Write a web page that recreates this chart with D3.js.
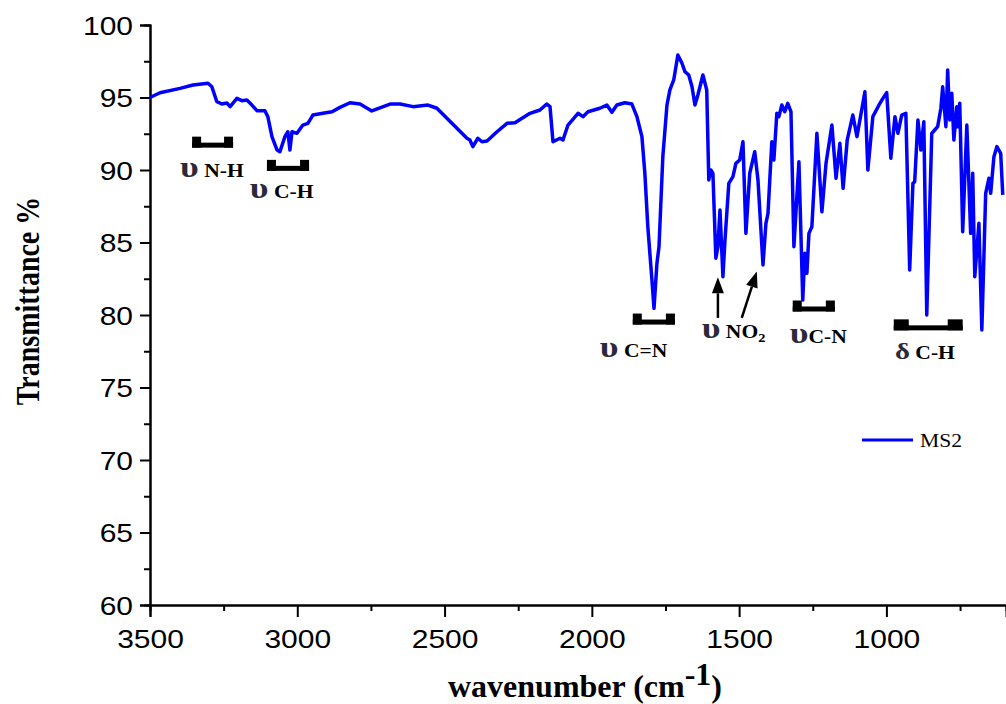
<!DOCTYPE html>
<html lang="en">
<head>
<meta charset="utf-8">
<script src="https://cdn.jsdelivr.net/npm/d3@7"></script>
<style>
  body { margin: 0; background: #fff; }
</style>
</head>
<body>
<script>

// IR spectrum of MS2
var wavenumber = [3500,3466,3398,3354,3303,3290,3273,3256,3239,3228,
  3205,3188,3171,3154,3137,3110,3100,3086,3069,3059,
  3042,3032,3025,3018,3001,2981,2964,2947,2913,2882,
  2855,2821,2787,2747,2685,2651,2607,2556,2526,2492,
  2458,2424,2414,2404,2387,2373,2356,2322,2288,2261,
  2210,2176,2153,2142,2132,2108,2098,2081,2047,2030,
  2013,1973,1949,1932,1915,1888,1864,1847,1830,1820,
  1810,1796,1789,1779,1772,1759,1745,1735,1722,1708,
  1694,1684,1671,1660,1650,1640,1623,1610,1603,1596,
  1589,1579,1572,1565,1555,1548,1535,1521,1511,1498,
  1487,1477,1464,1447,1436,1419,1409,1402,1389,1382,
  1372,1365,1355,1345,1335,1324,1314,1297,1284,1277,
  1270,1263,1253,1236,1219,1205,1185,1171,1158,1147,
  1133,1114,1100,1073,1063,1046,1022,1012,999,985,
  971,961,948,934,921,910,904,893,883,873,
  863,846,836,826,815,809,798,792,785,778,
  771,761,758,751,741,727,714,707,700,686,
  676,663,652,646,635,625,612,605];

var transmittance = [95.0,95.33,95.63,95.86,95.98,95.74,94.71,94.55,94.62,94.37,
  94.94,94.78,94.83,94.48,94.09,94.09,93.68,92.30,91.38,91.26,
  92.30,92.64,91.38,92.64,92.53,93.10,93.22,93.79,93.91,94.02,
  94.32,94.64,94.55,94.07,94.55,94.55,94.37,94.48,94.26,93.57,
  92.88,92.19,92.07,91.61,92.19,91.95,92.00,92.64,93.22,93.26,
  93.91,94.14,94.55,94.37,91.95,92.19,92.07,93.10,93.91,93.68,
  94.02,94.26,94.48,93.98,94.48,94.64,94.55,93.68,92.30,89.77,
  86.09,82.41,80.46,83.57,84.71,90.92,94.48,95.52,96.21,97.93,
  97.36,96.78,96.55,95.74,94.48,95.17,96.55,95.52,89.31,90.0,
  89.77,83.91,84.71,87.24,82.64,85.17,89.08,89.54,90.46,90.69,
  91.95,85.63,89.77,91.26,89.31,83.45,86.32,87.01,91.95,90.69,
  93.91,93.68,94.48,94.02,94.60,94.02,84.71,90.57,81.03,84.26,
  82.88,85.63,86.09,92.53,87.12,90.46,93.10,89.43,91.84,88.74,
  92.07,93.79,92.30,95.40,90.0,93.68,94.60,94.94,95.33,90.81,
  93.68,92.53,93.79,93.91,83.10,89.08,89.19,93.45,91.38,93.33,
  80.0,92.53,92.76,92.99,94.26,95.74,92.99,96.90,93.45,95.29,
  92.07,94.37,92.99,94.60,85.74,93.10,85.63,89.77,82.64,86.32,
  78.97,88.39,89.43,88.39,90.92,91.61,91.15,88.28];

var xTicks = [3500, 3000, 2500, 2000, 1500, 1000];
var xMinor = [3250, 2750, 2250, 1750, 1250, 750];
var yTicks = [60, 65, 70, 75, 80, 85, 90, 95, 100];
var yMinor = [62.5, 67.5, 72.5, 77.5, 82.5, 87.5, 92.5, 97.5];

// band annotations: symbol, group, [left, right] wavenumber, [top, bottom] %T
var bandSymbol = ["υ", "υ", "υ", "υ", "υ", "δ"];
var bandGroup = ["N-H", "C-H", "C=N", "NO2", "C-N", "C-H"];
var bandLabelAt = [[3398, 89.5], [3161, 88.1], [1973, 77.1], [1627, 78.4], [1328, 78.1], [971, 77.0]];
var bracketRange = [[3357, 3218], [3103, 2960], [1861, 1718], null, [1318, 1175], [975, 741]];
var bracketTop = [92.3, 90.7, 80.1, null, 81.0, 79.7];
var arrowFrom = [[1572, 79.8], [1491, 79.8]];
var arrowTo = [[1572, 82.6], [1440, 83.0]];

var svgW = 1006, svgH = 704;
var serif = "'Liberation Serif', 'Times New Roman', serif";
var sans = "'Liberation Sans', Arial, sans-serif";
var stretch = 1.2;   // the figure's text is a bit wide

var x = d3.scaleLinear().domain([3500, 594]).range([150, 1006]);
var y = d3.scaleLinear().domain([60, 100]).range([605, 25]);

var svg = d3.select("body").append("svg")
    .attr("width", svgW)
    .attr("height", svgH);

// axes
var xAxis = svg.append("g")
    .attr("transform", "translate(0," + y(60) + ")")
    .call(d3.axisBottom(x).tickValues(xTicks).tickSize(12).tickFormat(d3.format("d")));
svg.append("g")
    .attr("transform", "translate(0," + y(60) + ")")
    .call(d3.axisBottom(x).tickValues(xMinor).tickSize(6).tickFormat(""));

var yAxis = svg.append("g")
    .attr("transform", "translate(" + x(3500) + ",0)")
    .call(d3.axisLeft(y).tickValues(yTicks).tickSize(10));
svg.append("g")
    .attr("transform", "translate(" + x(3500) + ",0)")
    .call(d3.axisLeft(y).tickValues(yMinor).tickSize(6).tickFormat(""));

svg.selectAll(".domain, .tick line")
    .attr("stroke", "#000")
    .attr("stroke-width", 2);

xAxis.selectAll("text")
    .attr("y", 43)
    .attr("dy", null)
    .attr("transform", "scale(" + stretch + ",1)")
    .style("font-family", sans)
    .style("font-size", "25px")
    .attr("fill", "#000");

yAxis.selectAll("text")
    .attr("x", -17 / stretch)
    .attr("dy", "0.36em")
    .attr("transform", "scale(" + stretch + ",1)")
    .style("font-family", sans)
    .style("font-size", "25px")
    .attr("fill", "#000");

// axis titles
svg.append("text")
    .attr("transform", "translate(39,301) rotate(-90) scale(1," + stretch + ")")
    .attr("text-anchor", "middle")
    .style("font-family", serif)
    .style("font-weight", "bold")
    .style("font-size", "28px")
    .text("Transmittance %");

var xTitle = svg.append("text")
    .attr("x", 585)
    .attr("y", 697)
    .attr("text-anchor", "middle")
    .style("font-family", serif)
    .style("font-weight", "bold")
    .style("font-size", "32px");
xTitle.append("tspan").text("wavenumber (cm");
xTitle.append("tspan").attr("dy", -12).text("-1");
xTitle.append("tspan").attr("dy", 12).text(")");

// spectrum
var spectrum = wavenumber.map(function(w, i) {
  return {w: w, t: transmittance[i]};
});

svg.append("path")
    .datum(spectrum)
    .attr("fill", "none")
    .attr("stroke", "#0000ff")
    .attr("stroke-width", 3.5)
    .attr("stroke-linejoin", "round")
    .attr("d", d3.line()
      .x(function(d) { return x(d.w); })
      .y(function(d) { return y(d.t); }));

// brackets under the bands
bracketRange.forEach(function(r, i) {
  if (!r) return;
  var x0 = x(r[0]), x1 = x(r[1]);
  var top = y(bracketTop[i]);
  var post = i == 5 ? 15 : 9;
  var g = svg.append("g").attr("fill", "#000");
  g.append("rect").attr("x", x0).attr("y", top).attr("width", post).attr("height", 11);
  g.append("rect").attr("x", x1 - post).attr("y", top).attr("width", post).attr("height", 11);
  g.append("rect").attr("x", x0).attr("y", top + 6).attr("width", x1 - x0).attr("height", 5);
});

// arrows for the NO2 bands
arrowFrom.forEach(function(p, i) {
  var x0 = x(p[0]), y0 = y(p[1]);
  var x1 = x(arrowTo[i][0]), y1 = y(arrowTo[i][1]);
  var ang = Math.atan2(y1 - y0, x1 - x0);
  var hl = 16, hw = 6;
  var bx = x1 - hl * Math.cos(ang), by = y1 - hl * Math.sin(ang);
  svg.append("line")
      .attr("x1", x0).attr("y1", y0).attr("x2", bx).attr("y2", by)
      .attr("stroke", "#000").attr("stroke-width", 2.5);
  svg.append("path")
      .attr("fill", "#000")
      .attr("d", "M" + x1 + "," + y1 +
        "L" + (bx + hw * Math.sin(ang)) + "," + (by - hw * Math.cos(ang)) +
        "L" + (bx - hw * Math.sin(ang)) + "," + (by + hw * Math.cos(ang)) + "Z");
});

// band labels
bandGroup.forEach(function(grp, i) {
  var t = svg.append("text")
      .attr("transform", "translate(" + x(bandLabelAt[i][0]) + "," + y(bandLabelAt[i][1]) + ") scale(" + stretch + ",1)")
      .style("font-family", serif)
      .style("font-weight", "bold")
      .style("font-size", "18px")
      .attr("fill", "#000");
  t.append("tspan")
      .style("font-size", bandSymbol[i] == "δ" ? "24px" : "30px")
      .attr("fill", "#2a2a3a")
      .text(bandSymbol[i]);
  t.append("tspan").text(i == 4 ? "" : "\u00a0");
  if (grp == "NO2") {
    t.append("tspan").text("NO");
    t.append("tspan").attr("dy", 4).style("font-size", "12px").text("2");
  } else {
    t.append("tspan").text(grp);
  }
});

// legend
svg.append("line")
    .attr("x1", 862).attr("x2", 913)
    .attr("y1", 440).attr("y2", 440)
    .attr("stroke", "#0000ff")
    .attr("stroke-width", 3);
svg.append("text")
    .attr("transform", "translate(920,447) scale(" + stretch + ",1)")
    .style("font-family", serif)
    .style("font-size", "18px")
    .text("MS2");

</script>
</body>
</html>
